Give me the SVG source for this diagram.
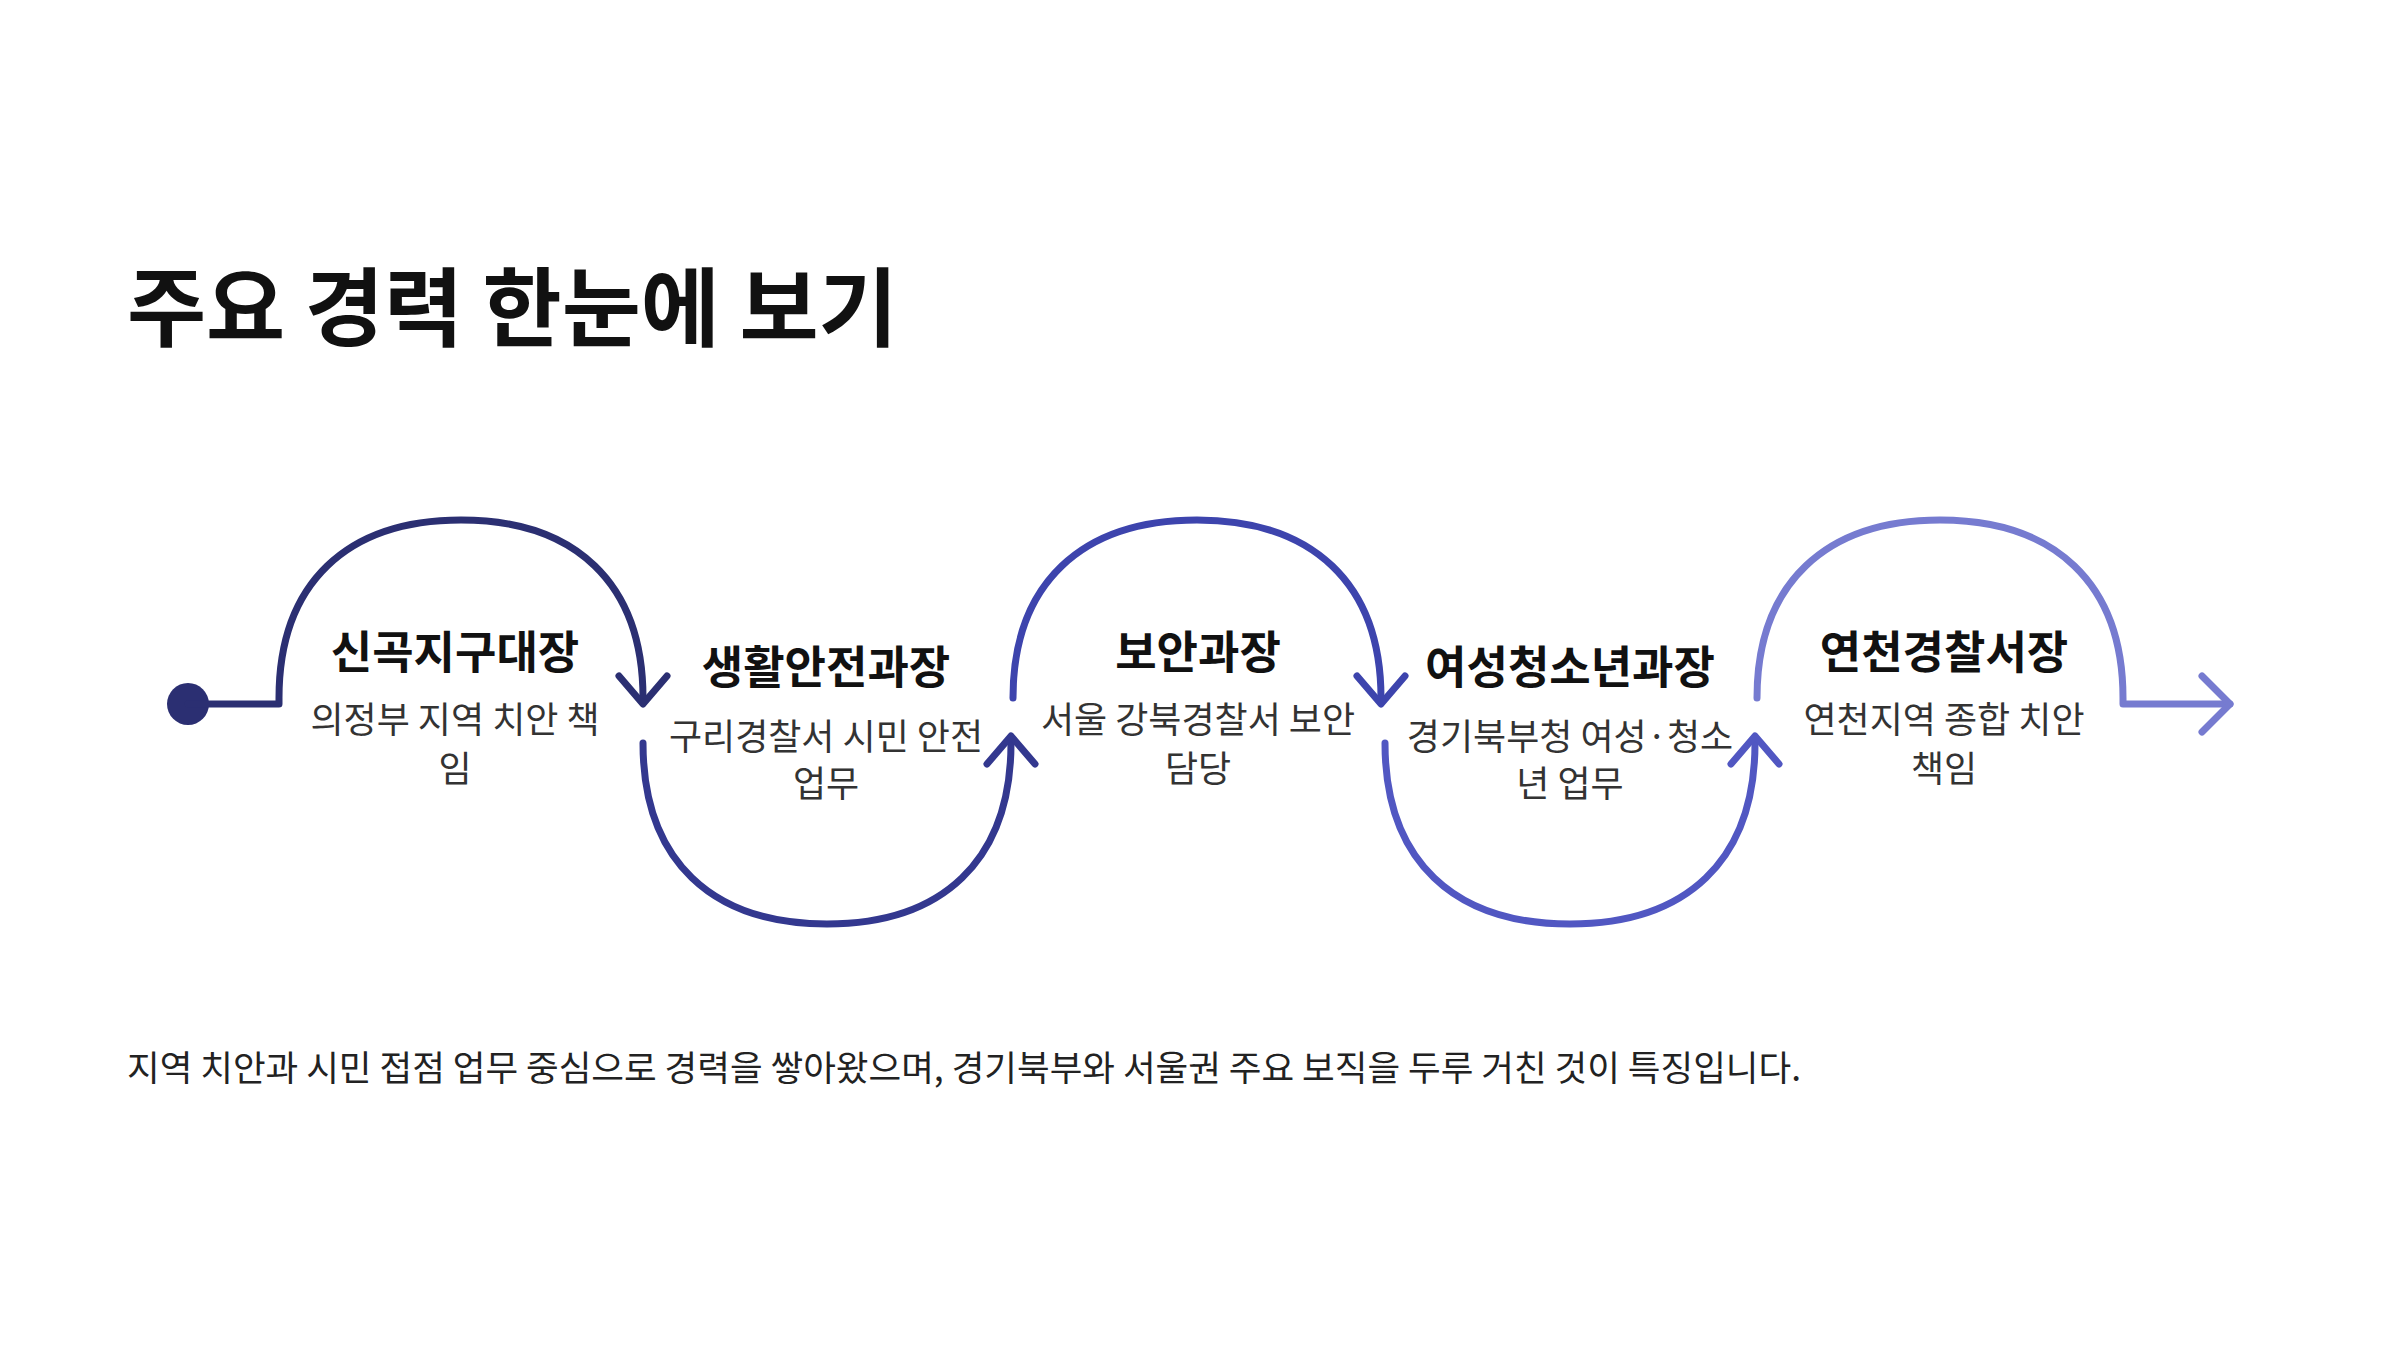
<svg xmlns="http://www.w3.org/2000/svg" width="2400" height="1350" viewBox="0 0 2400 1350">
<style>
text{font-family:"Noto Sans CJK KR","Noto Sans",sans-serif}
.h{font-size:86px;font-weight:700;fill:#111}
.t{font-size:45px;font-weight:700;fill:#111;text-anchor:middle}
.d{font-size:36px;fill:#333;text-anchor:middle}
.f{font-size:35.5px;fill:#222}
.c{fill:none;stroke-width:7;stroke-linecap:round;stroke-linejoin:round}
</style>
<rect width="2400" height="1350" fill="#fff"/>
<text class="h" x="127" y="340">주요 경력 한눈에 보기</text>
<g id="connectors">
<circle cx="188" cy="704" r="21" fill="#2b2f72"/>
<path class="c" stroke="#2b2f72" d="M188 704H279V698C279 583 347 520 461 520C575 520 643 583 643 698"/>
<path class="c" stroke="#2b2f72" d="M619 676L643 704L667 676"/>
<path class="c" stroke="#33388f" d="M643 743C643 861 712 924 827 924C942 924 1011 861 1011 743"/>
<path class="c" stroke="#33388f" d="M987 764L1011 736L1035 764"/>
<path class="c" stroke="#3d44ad" d="M1013 698C1013 583 1082 520 1197 520C1312 520 1381 583 1381 698"/>
<path class="c" stroke="#3d44ad" d="M1357 676L1381 704L1405 676"/>
<path class="c" stroke="#5157c2" d="M1385 743C1385 861 1454 924 1570 924C1686 924 1755 861 1755 743"/>
<path class="c" stroke="#5157c2" d="M1731 764L1755 736L1779 764"/>
<path class="c" stroke="#767bd0" d="M1757 698C1757 583 1826 520 1940 520C2054 520 2123 583 2123 698V704H2230"/>
<path class="c" stroke="#767bd0" d="M2202 676L2230 704L2202 732"/>
</g>
<g id="n1"><text class="t" x="455" y="669">신곡지구대장</text><text class="d" x="455" y="733">의정부 지역 치안 책</text><text class="d" x="455" y="782">임</text></g>
<g id="n2"><text class="t" x="826" y="684">생활안전과장</text><text class="d" x="826" y="750">구리경찰서 시민 안전</text><text class="d" x="826" y="797">업무</text></g>
<g id="n3"><text class="t" x="1198" y="669">보안과장</text><text class="d" x="1198" y="733">서울 강북경찰서 보안</text><text class="d" x="1198" y="782">담당</text></g>
<g id="n4"><text class="t" x="1570" y="684">여성청소년과장</text><text class="d" x="1570" y="750">경기북부청 여성·청소</text><text class="d" x="1570" y="797">년 업무</text></g>
<g id="n5"><text class="t" x="1944" y="669">연천경찰서장</text><text class="d" x="1944" y="733">연천지역 종합 치안</text><text class="d" x="1944" y="782">책임</text></g>
<text class="f" x="127" y="1081">지역 치안과 시민 접점 업무 중심으로 경력을 쌓아왔으며, 경기북부와 서울권 주요 보직을 두루 거친 것이 특징입니다.</text>
</svg>
